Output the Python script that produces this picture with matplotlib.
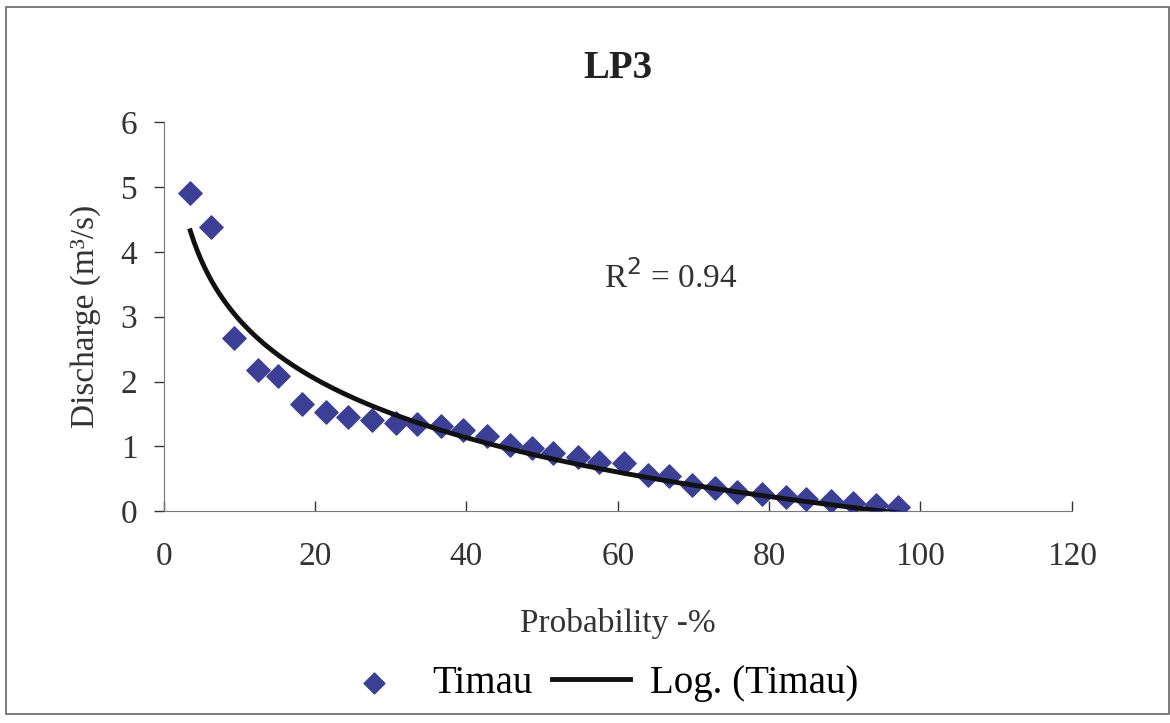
import matplotlib.pyplot as plt
import numpy as np
from matplotlib.patches import Rectangle

# 데이터
prob = [3.5, 6.3, 9.3, 12.4, 15.1, 18.3, 21.4, 24.3, 27.5, 30.7, 33.5, 36.7,
        39.5, 42.7, 45.8, 48.7, 51.5, 54.7, 57.5, 60.8, 64.0, 66.8, 69.8, 72.9,
        75.8, 79.0, 82.2, 84.9, 88.2, 91.1, 94.1, 97.1]
discharge = [4.91, 4.38, 2.67, 2.17, 2.08, 1.66, 1.53, 1.46, 1.40, 1.36, 1.35, 1.31,
             1.25, 1.16, 1.02, 0.97, 0.90, 0.83, 0.76, 0.74, 0.56, 0.55, 0.40, 0.35,
             0.30, 0.26, 0.22, 0.18, 0.16, 0.12, 0.09, 0.07]
xticks = [0, 20, 40, 60, 80, 100, 120]
yticks = [0, 1, 2, 3, 4, 5, 6]

plt.rcParams['font.family'] = ['Liberation Serif', 'DejaVu Serif']

# 로그 추세선 (엑셀 Log trendline 과 같은 방식)
x = np.array(prob)
y = np.array(discharge)
a, b = np.polyfit(np.log(x), y, 1)
xs = np.linspace(x.min(), x.max(), 200)
ys = a * np.log(xs) + b

fig = plt.figure(figsize=(11.7, 7.23), dpi=100)
ax = fig.add_axes([0.140, 0.293, 0.776, 0.538])

ax.scatter(prob, discharge, marker='D', s=140, color='#3b3f96', zorder=3, label='Timau')
ax.plot(xs, ys, color='#111111', lw=3.5, zorder=4, label='Log. (Timau)')

ax.set_xlim(0, 120)
ax.set_ylim(0, 6)
ax.set_xticks(xticks)
ax.set_yticks(yticks)
ax.tick_params(labelsize=24, colors='#333333', length=7, width=1, pad=12)
ax.tick_params(axis='x', direction='in', pad=22)
for s in ['top', 'right']:
    ax.spines[s].set_visible(False)
for s in ['left', 'bottom']:
    ax.spines[s].set_color('#777777')

ax.set_xlabel('Probability -%', fontsize=24, color='#333333', labelpad=26)
ax.set_ylabel('Discharge (m³/s)', fontsize=24, color='#333333', labelpad=14)
ax.set_title('LP3', fontsize=28, fontweight='bold', color='#222222', pad=32)
ax.text(0.485, 0.60, 'R$^2$ = 0.94', transform=ax.transAxes, fontsize=24,
        color='#333333', va='center')

fig.legend(loc='center', bbox_to_anchor=(0.51, 0.055), ncol=2, frameon=False,
           fontsize=28, handlelength=2.0, columnspacing=0.5, handletextpad=0.5,
           markerscale=0.9)

# 바깥 테두리
fig.patches.append(Rectangle((0.005, 0.012), 0.994, 0.978, transform=fig.transFigure,
                             fill=False, edgecolor='#666666', lw=1.2))

plt.savefig('out.png', dpi=100)
